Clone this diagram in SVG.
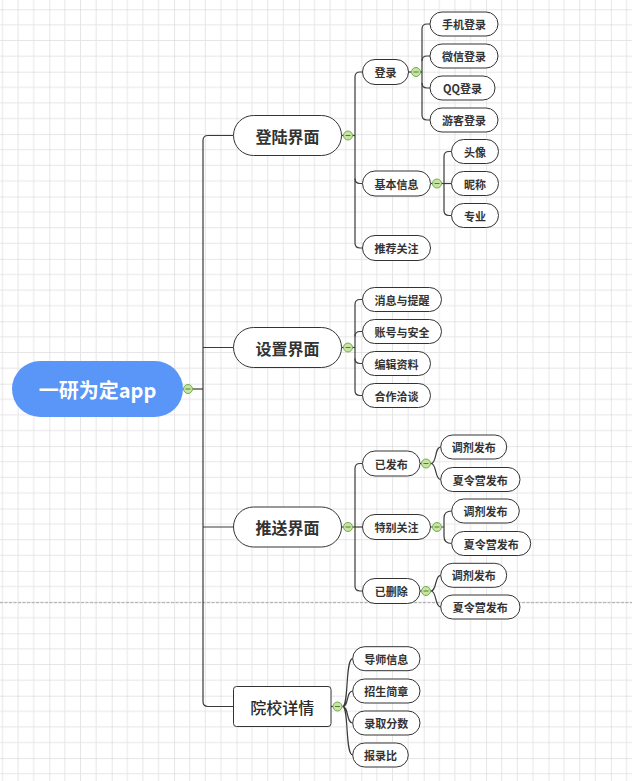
<svg xmlns="http://www.w3.org/2000/svg" width="632" height="781" viewBox="0 0 632 781">
<defs>
<pattern id="grid" width="62.4" height="62.4" patternUnits="userSpaceOnUse" x="49.3" y="71.7">
<path d="M15.6,0V62.4M31.2,0V62.4M46.8,0V62.4M0,15.6H62.4M0,31.2H62.4M0,46.8H62.4" stroke="#e6e6e6" stroke-width="1" fill="none"/>
<path d="M0,0V62.4M0,0H62.4" stroke="#cfcfcf" stroke-width="1" fill="none"/>
</pattern>
<style>
.n{fill:#fff;stroke:#333;stroke-width:1}
.t{font-family:"Noto Sans CJK SC","Liberation Sans",sans-serif;fill:#333;text-anchor:middle;dominant-baseline:central}
.s{font-size:11px;font-weight:bold}
.m{font-size:16px;font-weight:bold}
.c{fill:#c8e4a4;stroke:#74ad4c;stroke-width:1}
.cm{stroke:#4f7f30;stroke-width:1}
.l{fill:none;stroke:#3a3a3a;stroke-width:1.2}
</style>
</defs>
<rect width="632" height="781" fill="#fff"/>
<rect width="632" height="781" fill="url(#grid)"/>
<line x1="0" y1="602.7" x2="632" y2="602.7" stroke="#a8a8a8" stroke-width="1" stroke-dasharray="3,1.5"/>

<g id="connectors" class="l">
<path d="M183,389H203"/>
<path d="M233.5,135.5H208Q203,135.5 203,140.5V701.5Q203,706.5 208,706.5H233.5"/>
<path d="M203,347.5H233.5M203,527H233.5"/>
<path d="M341.5,135.5H355"/>
<path d="M362.5,72H360Q355,72 355,77V243Q355,248 360,248H362.5"/>
<path d="M355,178.5Q355,183.5 360,183.5H362.5"/>
<path d="M408.5,72H422"/>
<path d="M430,24H427Q422,24 422,29V115Q422,120 427,120H430"/>
<path d="M422,61Q422,56 427,56H430M422,83Q422,88 427,88H430"/>
<path d="M430.5,183.5H451.5"/>
<path d="M451.5,151.5H449Q444,151.5 444,156.5V210.5Q444,215.5 449,215.5H451.5"/>
<path d="M341.5,347.5H355"/>
<path d="M362.5,299.5H360Q355,299.5 355,304.5V390.5Q355,395.5 360,395.5H362.5"/>
<path d="M355,336.5Q355,331.5 360,331.5H362.5M355,358.5Q355,363.5 360,363.5H362.5"/>
<path d="M341.5,527H362.5"/>
<path d="M362.5,463.5H360Q355,463.5 355,468.5V586Q355,591 360,591H362.5"/>
<path d="M420,463.5H431M431,463.5C437,463.5 434.5,447 440.7,447M431,463.5C437,463.5 434.5,479.5 440.7,479.5"/>
<path d="M430.5,527H444M451.7,511Q444,511 444,518V536.5Q444,543.5 451.7,543.5"/>
<path d="M420,591H431M431,591C437,591 434.5,575.3 440.7,575.3M431,591C437,591 434.5,607 440.7,607"/>
<path d="M331,706.5H342.5"/>
<path d="M342.5,706.5C349,706.5 345,658.7 352.7,658.7M342.5,706.5C349,706.5 346,691 352.7,691M342.5,706.5C349,706.5 346,723 352.7,723M342.5,706.5C349,706.5 345,755 352.7,755"/>
</g>

<g id="root">
<rect x="12" y="361" width="171" height="56" rx="28" fill="#5a96f8"/>
<text x="97.5" y="389" class="t" style="fill:#fff;font-size:20px;font-weight:bold">一研为定app</text>
</g>
<g id="c-root"><circle cx="188" cy="389" r="4.5" class="c"/><line x1="185.5" y1="389" x2="190.5" y2="389" class="cm"/></g>

<g id="n-denglu-jiemian">
<rect x="233.5" y="115.5" width="108" height="40" rx="20" class="n"/>
<text x="287.5" y="135.5" class="t m">登陆界面</text>
<circle cx="348" cy="135.5" r="4.5" class="c"/><line x1="345.5" y1="135.5" x2="350.5" y2="135.5" class="cm"/>
</g>
<g id="n-shezhi">
<rect x="233.5" y="327.5" width="108" height="40" rx="20" class="n"/>
<text x="287.5" y="347.5" class="t m">设置界面</text>
<circle cx="348" cy="347.5" r="4.5" class="c"/><line x1="345.5" y1="347.5" x2="350.5" y2="347.5" class="cm"/>
</g>
<g id="n-tuisong">
<rect x="233.5" y="507" width="108" height="40" rx="20" class="n"/>
<text x="287.5" y="527" class="t m">推送界面</text>
<circle cx="348" cy="527" r="4.5" class="c"/><line x1="345.5" y1="527" x2="350.5" y2="527" class="cm"/>
</g>
<g id="n-yuanxiao">
<rect x="233.5" y="686.5" width="97.5" height="40" rx="3" class="n"/>
<text x="282.25" y="706.5" class="t" style="font-size:16px;font-weight:500;fill:#2a2a2a">院校详情</text>
<circle cx="337.5" cy="706.5" r="4.5" class="c"/><line x1="335" y1="706.5" x2="340" y2="706.5" class="cm"/>
</g>

<g id="n-denglu">
<rect x="362.5" y="59.5" width="46" height="25" rx="12.5" class="n"/>
<text x="385.5" y="72" class="t s">登录</text>
<circle cx="416" cy="72" r="4.5" class="c"/><line x1="413.5" y1="72" x2="418.5" y2="72" class="cm"/>
</g>
<g id="n-shouji"><rect x="430" y="12" width="68" height="24" rx="12" class="n"/><text x="464" y="24" class="t s">手机登录</text></g>
<g id="n-weixin"><rect x="430" y="44" width="68" height="24" rx="12" class="n"/><text x="464" y="56" class="t s">微信登录</text></g>
<g id="n-qq"><rect x="430" y="76" width="65" height="24" rx="12" class="n"/><text x="462.5" y="88" class="t s">QQ登录</text></g>
<g id="n-youke"><rect x="430" y="108" width="68" height="24" rx="12" class="n"/><text x="464" y="120" class="t s">游客登录</text></g>

<g id="n-jiben">
<rect x="362.5" y="171" width="68" height="25" rx="12.5" class="n"/>
<text x="396.5" y="183.5" class="t s">基本信息</text>
<circle cx="437" cy="183.5" r="4.5" class="c"/><line x1="434.5" y1="183.5" x2="439.5" y2="183.5" class="cm"/>
</g>
<g id="n-touxiang"><rect x="451.5" y="139.5" width="47" height="24" rx="12" class="n"/><text x="475" y="151.5" class="t s">头像</text></g>
<g id="n-nicheng"><rect x="451.5" y="171.5" width="47" height="24" rx="12" class="n"/><text x="475" y="183.5" class="t s">昵称</text></g>
<g id="n-zhuanye"><rect x="451.5" y="203.5" width="47" height="24" rx="12" class="n"/><text x="475" y="215.5" class="t s">专业</text></g>
<g id="n-tuijian"><rect x="362.5" y="235.5" width="68" height="25" rx="12.5" class="n"/><text x="396.5" y="248" class="t s">推荐关注</text></g>

<g id="n-xiaoxi"><rect x="362.5" y="287.5" width="79" height="24" rx="12" class="n"/><text x="402" y="299.5" class="t s">消息与提醒</text></g>
<g id="n-zhanghao"><rect x="362.5" y="319.5" width="79" height="24" rx="12" class="n"/><text x="402" y="331.5" class="t s">账号与安全</text></g>
<g id="n-bianji"><rect x="362.5" y="351.5" width="68" height="24" rx="12" class="n"/><text x="396.5" y="363.5" class="t s">编辑资料</text></g>
<g id="n-hezuo"><rect x="362.5" y="383.5" width="68" height="24" rx="12" class="n"/><text x="396.5" y="395.5" class="t s">合作洽谈</text></g>

<g id="n-yifabu">
<rect x="362.5" y="451" width="57.5" height="25" rx="12.5" class="n"/>
<text x="391.25" y="463.5" class="t s">已发布</text>
<circle cx="426" cy="463.5" r="4.5" class="c"/><line x1="423.5" y1="463.5" x2="428.5" y2="463.5" class="cm"/>
</g>
<g id="n-tiaoji1"><rect x="440.7" y="435" width="66" height="24" rx="12" class="n"/><text x="473.7" y="447" class="t s">调剂发布</text></g>
<g id="n-xialing1"><rect x="440.7" y="467.5" width="79.3" height="24" rx="12" class="n"/><text x="480.35" y="479.5" class="t s">夏令营发布</text></g>

<g id="n-tebie">
<rect x="362.5" y="514.5" width="68" height="25" rx="12.5" class="n"/>
<text x="396.5" y="527" class="t s">特别关注</text>
<circle cx="437" cy="527" r="4.5" class="c"/><line x1="434.5" y1="527" x2="439.5" y2="527" class="cm"/>
</g>
<g id="n-tiaoji2"><rect x="451.7" y="499" width="67.6" height="24" rx="12" class="n"/><text x="485.5" y="511" class="t s">调剂发布</text></g>
<g id="n-xialing2"><rect x="451.7" y="531.5" width="79" height="24" rx="12" class="n"/><text x="491.2" y="543.5" class="t s">夏令营发布</text></g>

<g id="n-yishanchu">
<rect x="362.5" y="578.5" width="57.5" height="25" rx="12.5" class="n"/>
<text x="391.25" y="591" class="t s">已删除</text>
<circle cx="426" cy="591" r="4.5" class="c"/><line x1="423.5" y1="591" x2="428.5" y2="591" class="cm"/>
</g>
<g id="n-tiaoji3"><rect x="440.7" y="563.3" width="66" height="24" rx="12" class="n"/><text x="473.7" y="575.3" class="t s">调剂发布</text></g>
<g id="n-xialing3"><rect x="440.7" y="595" width="79.3" height="24" rx="12" class="n"/><text x="480.35" y="607" class="t s">夏令营发布</text></g>

<g id="n-daoshi"><rect x="352.7" y="646.7" width="67.3" height="24" rx="12" class="n"/><text x="386.35" y="658.7" class="t s">导师信息</text></g>
<g id="n-zhaosheng"><rect x="352.7" y="679" width="67.3" height="24" rx="12" class="n"/><text x="386.35" y="691" class="t s">招生简章</text></g>
<g id="n-luqu"><rect x="352.7" y="711" width="67.3" height="24" rx="12" class="n"/><text x="386.35" y="723" class="t s">录取分数</text></g>
<g id="n-baolu"><rect x="352.7" y="743" width="55.6" height="24" rx="12" class="n"/><text x="380.5" y="755" class="t s">报录比</text></g>
</svg>
